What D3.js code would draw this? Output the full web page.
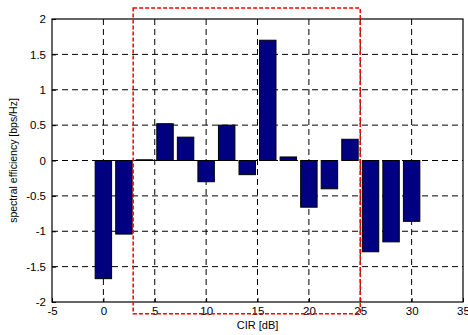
<!DOCTYPE html>
<html><head><meta charset="utf-8">
<script src="https://cdn.jsdelivr.net/npm/d3@7"></script>
<style>body{margin:0;background:#fff}svg{display:block}text{font-family:"Liberation Sans",Arial,sans-serif}</style>
</head><body><svg id="c" width="468" height="335"></svg>
<script>
const cir = [0,2,4,6,8,10,12,14,16,18,20,22,24,26,28,30];
const efficiency = [-1.67,-1.04,0.01,0.52,0.33,-0.30,0.50,-0.20,1.70,0.05,-0.66,-0.40,0.30,-1.29,-1.15,-0.86];
const xTicks = [-5,0,5,10,15,20,25,30,35];
const yTicks = [-2,-1.5,-1,-0.5,0,0.5,1,1.5,2];
const highlight = {x0:2.9, x1:25.0, y0:-2.165, y1:2.155};

const svg = d3.select("#c");
const L=52, R=463, T=19, B=302;
const x = d3.scaleLinear().domain([-5,35]).range([L,R]);
const y = d3.scaleLinear().domain([-2,2]).range([B,T]);
const g = svg.append("g");

// grid
g.selectAll(".gx").data(xTicks.slice(1,-1)).join("line")
  .attr("x1",d=>x(d)).attr("x2",d=>x(d)).attr("y1",T).attr("y2",B)
  .attr("stroke","#000").attr("stroke-width",1).attr("stroke-dasharray","6,4");
g.selectAll(".gy").data(yTicks.slice(1,-1)).join("line")
  .attr("y1",d=>y(d)).attr("y2",d=>y(d)).attr("x1",L).attr("x2",R)
  .attr("stroke","#000").attr("stroke-width",1).attr("stroke-dasharray","6,4");

// bars
const bw = 1.6;
g.selectAll(".bar").data(cir.map((c,i)=>({c,v:efficiency[i]}))).join("rect")
  .attr("x",d=>x(d.c-bw/2)).attr("width",x(bw)-x(0))
  .attr("y",d=>y(Math.max(0,d.v))).attr("height",d=>Math.abs(y(d.v)-y(0)))
  .attr("fill","#000080").attr("stroke","#000").attr("stroke-width",1);

// axes
const fmt = d=>String(d);
const ax = d3.axisBottom(x).tickValues(xTicks).tickSize(-4).tickPadding(6).tickFormat(fmt);
const ay = d3.axisLeft(y).tickValues(yTicks).tickSize(-4).tickPadding(6).tickFormat(fmt);
const gx = svg.append("g").attr("transform",`translate(0,${B})`).call(ax);
const gy = svg.append("g").attr("transform",`translate(${L},0)`).call(ay);
[gx,gy].forEach(a=>{a.select(".domain").remove();a.selectAll("text").attr("font-size",11.5).attr("fill","#000").style("font-family","Liberation Sans, Arial, sans-serif");a.selectAll("line").attr("stroke","#000");});
gx.selectAll("text").attr("dy","0.6em");
// box
svg.append("rect").attr("x",L).attr("y",T).attr("width",R-L).attr("height",B-T)
  .attr("fill","none").attr("stroke","#000").attr("stroke-width",1.2);

// highlight box
svg.append("rect").attr("x",x(highlight.x0)).attr("y",y(highlight.y1))
  .attr("width",x(highlight.x1)-x(highlight.x0)).attr("height",y(highlight.y0)-y(highlight.y1))
  .attr("fill","none").attr("stroke","#ff0000").attr("stroke-width",1.5).attr("stroke-dasharray","4,2");

// labels
svg.append("text").attr("x",(L+R)/2).attr("y",329).attr("text-anchor","middle").attr("font-size",11).text("CIR [dB]");
svg.append("text").attr("transform",`translate(17,${(T+B)/2}) rotate(-90)`).attr("text-anchor","middle").attr("font-size",10.5).text("spectral efficiency [bps/Hz]");
</script></body></html>
